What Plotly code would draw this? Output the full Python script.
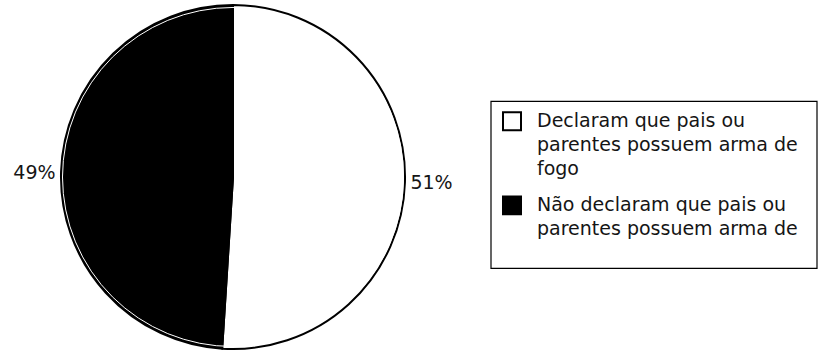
import plotly.graph_objects as go

# Share of respondents by whether they report that parents or relatives own a firearm
labels = [
    "Declaram que pais ou<br>parentes possuem arma de<br>fogo",
    "Não declaram que pais ou<br>parentes possuem arma de",
]
values = [51, 49]
colors = ["#ffffff", "#000000"]

W, H = 819, 354
FONT = "DejaVu Sans"
TEXT_COLOR = "#151515"

# pie geometry in pixels
CX, CY, R = 233, 178, 173


def px(x):
    return x / W


def py(y):
    return 1 - y / H


fig = go.Figure()
fig.add_trace(go.Pie(
    labels=labels,
    values=values,
    sort=False,
    direction="clockwise",
    rotation=0,
    marker=dict(colors=colors, line=dict(color="#000000", width=2)),
    textinfo="percent",
    textposition="outside",
    texttemplate="%{percent:.0%}",
    textfont=dict(family=FONT, size=19, color=TEXT_COLOR),
    domain=dict(x=[px(CX - R), px(CX + R)], y=[py(CY + R), py(CY - R)]),
    hoverinfo="skip",
    showlegend=False,
))

# thin light ring just inside the outline (shows on the dark slice)
ri = R - 2.5
fig.add_shape(type="circle", xref="paper", yref="paper", layer="above",
              x0=px(CX - ri), x1=px(CX + ri), y0=py(CY + ri), y1=py(CY - ri),
              line=dict(color="#ffffff", width=1), fillcolor="rgba(0,0,0,0)")

# legend: frame, swatches and wrapped labels
LEG_BOX = (491, 102, 817, 270)
SWATCH_X, SWATCH = 503, 18
TEXT_X = 535
LINE_STEP = 24.5
ITEM_GAP = 11
FIRST_BASELINE = 127
FS = 19

fig.add_shape(type="rect", xref="paper", yref="paper",
              x0=px(LEG_BOX[0]), x1=px(LEG_BOX[2]),
              y0=py(LEG_BOX[3]), y1=py(LEG_BOX[1]),
              line=dict(color="#000000", width=1.2), fillcolor="rgba(0,0,0,0)")

baseline = FIRST_BASELINE
for label, color in zip(labels, colors):
    top = baseline - 14
    fig.add_shape(type="rect", xref="paper", yref="paper",
                  x0=px(SWATCH_X), x1=px(SWATCH_X + SWATCH),
                  y0=py(top + SWATCH), y1=py(top),
                  line=dict(color="#000000", width=2), fillcolor=color)
    for line in label.split("<br>"):
        fig.add_annotation(
            x=px(TEXT_X), y=py(baseline - 0.346 * FS),
            xref="paper", yref="paper", xanchor="left", yanchor="middle",
            text=line, showarrow=False,
            font=dict(family=FONT, size=FS, color=TEXT_COLOR),
        )
        baseline += LINE_STEP
    baseline += ITEM_GAP

fig.update_layout(
    width=W, height=H,
    margin=dict(l=0, r=0, t=0, b=0),
    paper_bgcolor="#ffffff",
    plot_bgcolor="#ffffff",
    showlegend=False,
)

fig.write_html("out.html")
